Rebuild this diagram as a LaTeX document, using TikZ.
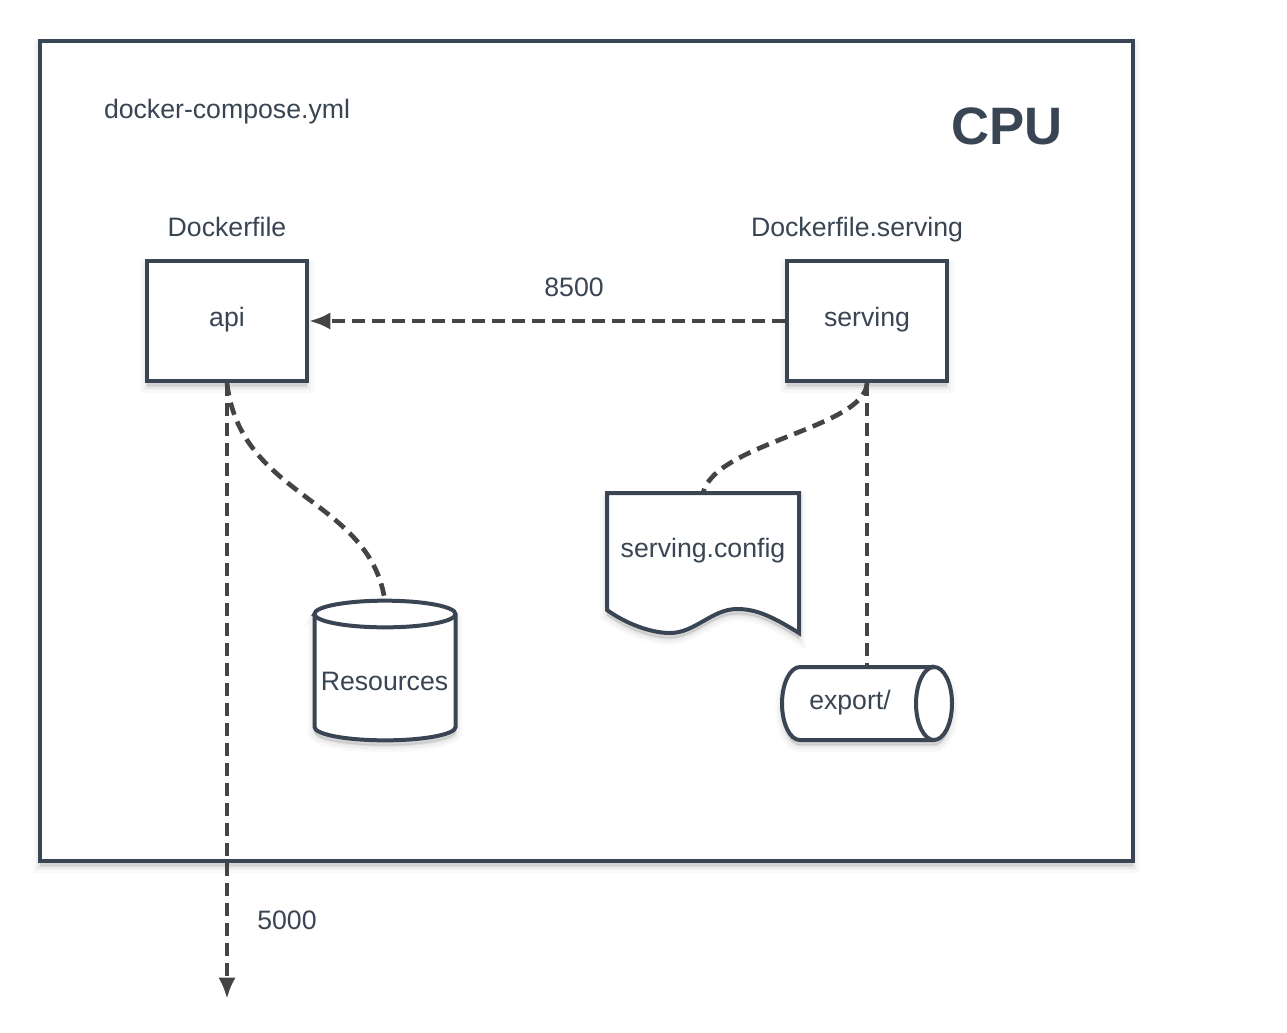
\documentclass[tikz,border=0pt]{standalone}
\usepackage{fontspec}
\setmainfont{Liberation Sans}
\usetikzlibrary{arrows.meta,shadows}
\definecolor{ink}{HTML}{3A4553}
\definecolor{wire}{HTML}{444444}

\begin{document}
\begin{tikzpicture}[
  x=0.75pt, y=-0.75pt,
  softshadow/.style={
    general shadow={shadow yshift=-4pt, fill=black, draw=black, line width=10pt, opacity=.025},
    general shadow={shadow yshift=-4pt, fill=black, draw=black, line width=6pt, opacity=.035},
    general shadow={shadow yshift=-4pt, fill=black, draw=black, line width=2pt, opacity=.05},
  },
  lbl/.style={font=\fontsize{20pt}{24pt}\selectfont, text=ink, inner sep=0pt, text height=18pt, text depth=4.5pt},
  box/.style={draw=ink, line width=3pt, fill=white, softshadow, inner sep=0pt},
  slot/.style={inner sep=0pt, outer sep=0pt},
  link/.style={draw=wire, line width=3.5pt, dash pattern=on 9.5pt off 5.5pt},
  tip/.style={-{Latex[length=16pt,width=13pt]}},
]

\useasboundingbox (0,0) rectangle (1287,1032);

% ── Outer frame ──
\node[box, minimum width=820pt, minimum height=615pt] (cpu) at (586.5,451) {};
\node[lbl] (compose) at (227,109) {docker-compose.yml};
\node[lbl, font=\fontsize{39.5pt}{44pt}\selectfont\bfseries, text height=29pt, text depth=0pt] (cpulbl) at (1007,125) {CPU};

% ── Services ──
\node[lbl] (apifile) at (227,227) {Dockerfile};
\node[lbl] (servfile) at (857,227) {Dockerfile.serving};
\node[box, minimum width=120pt, minimum height=90pt] (api) at (227,321) {};
\node[box, minimum width=120pt, minimum height=90pt] (serving) at (867,321) {};
\node[lbl] (apilbl) at (227,317) {api};
\node[lbl] (servlbl) at (867,317) {serving};

% ── Storage ──
\def\RX{52.9pt}  % Resources end, x radius
\def\RY{10pt}    % Resources end, y radius
\node[slot, minimum width=105.8pt, minimum height=104pt] (res) at (385,670.5) {};
\draw[box] (314.5,614) -- (314.5,727) arc[start angle=180, end angle=360, x radius=\RX, y radius=\RY]
  -- (455.5,614) arc[start angle=0, end angle=180, x radius=\RX, y radius=\RY] -- cycle;
\draw[draw=ink, line width=3pt] (314.5,614) arc[start angle=180, end angle=360, x radius=\RX, y radius=\RY];
\node[lbl] (reslbl) at (384.5,681) {Resources};

\def\EX{13.5pt}  % export end, x radius
\def\EY{27.4pt}  % export end, y radius
\node[slot, minimum width=127.5pt, minimum height=54.8pt] (export) at (867,703.5) {};
\draw[box] (934,667) -- (800,667) arc[start angle=90, end angle=270, x radius=\EX, y radius=\EY]
  -- (934,740) arc[start angle=-90, end angle=90, x radius=\EX, y radius=\EY] -- cycle;
\draw[draw=ink, line width=3pt] (934,667) arc[start angle=90, end angle=270, x radius=\EX, y radius=\EY];
\node[lbl] (explbl) at (850,700) {export/};

% Document with a wavy lower edge
\node[slot, minimum width=144pt, minimum height=105pt] (config) at (703,563) {};
\draw[box, line join=miter]
  (config.north west) -- (config.north east) -- (config.south east)
  .. controls (770,615) and (755,609) .. (737,609)
  .. controls (712,609) and (695,633) .. (670,633)
  .. controls (650,633) and (625,623) .. (607,610) -- cycle;
\node[lbl] (conflbl) at (703,548) {serving.config};

% ── Connectors ──
\draw[link, tip] (serving.west) -- (api.east);
\draw[link, tip] (api.south) -- (227,999) coordinate (out);
\draw[link] (api.south) .. controls (240,498) and (370,498) .. (res.north);
\draw[link] (serving.south) .. controls (865,428) and (715,443) .. (config.north);
\draw[link] (serving.south) -- (export.north);

% Port labels
\node[lbl] (port8500) at (574,287) {8500};
\node[lbl] (port5000) at (287,920) {5000};

\end{tikzpicture}
\end{document}
